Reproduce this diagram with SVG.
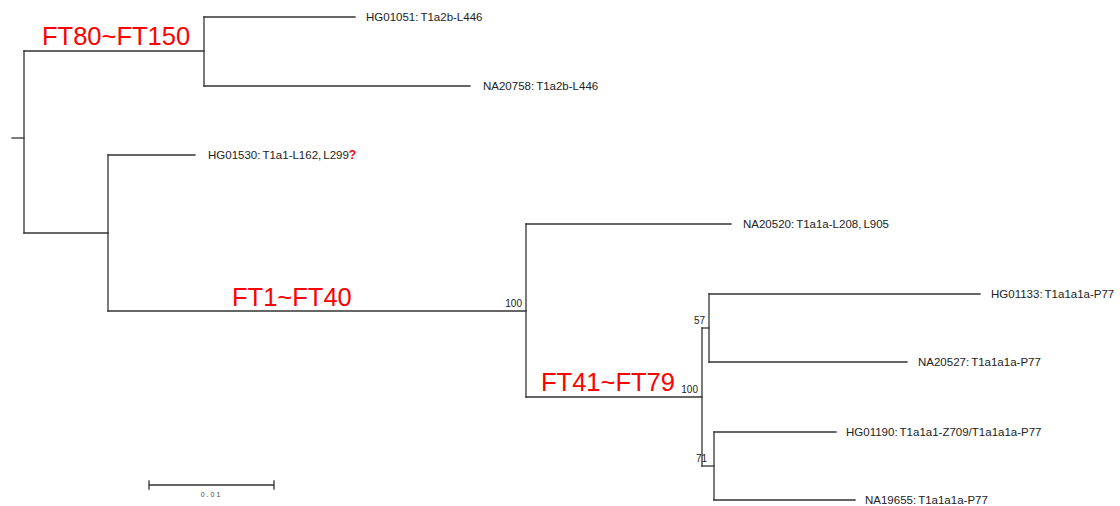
<svg xmlns="http://www.w3.org/2000/svg" width="1120" height="506" viewBox="0 0 1120 506">
<style>
.br{fill:none;stroke:#333;stroke-width:1.3;stroke-linecap:square}
.lb{font-family:"Liberation Sans",Arial,sans-serif;font-size:11.5px;fill:#222}
.bs{font-family:"Liberation Sans",Arial,sans-serif;font-size:10px;fill:#222}
.ft{font-family:"Liberation Sans",Arial,sans-serif;font-size:25.5px;fill:#ff0000}
.q{font-family:"Liberation Sans",Arial,sans-serif;font-size:12px;font-weight:bold;fill:#ff0000}
</style>
<rect width="1120" height="506" fill="#fff"/>
<g id="connectors">
<path class="br" d="M12,138 H24"/>
<path class="br" d="M24,51 V233"/>
<path class="br" d="M24,51 H204"/>
<path class="br" d="M204,17 V86"/>
<path class="br" d="M204,17 H355"/>
<path class="br" d="M204,86 H470"/>
<path class="br" d="M24,233 H108"/>
<path class="br" d="M108,155 V311"/>
<path class="br" d="M108,155 H195"/>
<path class="br" d="M108,311 H526"/>
<path class="br" d="M526,224 V397"/>
<path class="br" d="M526,224 H731"/>
<path class="br" d="M526,397 H702"/>
<path class="br" d="M702,328 V466"/>
<path class="br" d="M702,328 H709"/>
<path class="br" d="M709,294 V362"/>
<path class="br" d="M709,294 H980"/>
<path class="br" d="M709,362 H907"/>
<path class="br" d="M702,466 H714"/>
<path class="br" d="M714,432 V500"/>
<path class="br" d="M714,432 H836"/>
<path class="br" d="M714,500 H855"/>
</g>
<g id="ft80"><text class="ft" x="42" y="45">FT80~FT150</text></g>
<g id="ft1"><text class="ft" x="232" y="306">FT1~FT40</text></g>
<g id="ft41"><text class="ft" x="541" y="391">FT41~FT79</text></g>
<g id="HG01051"><text class="lb" x="366" y="21">HG01051:<tspan dx="2">T1a2b-L446</tspan></text></g>
<g id="NA20758"><text class="lb" x="483" y="90">NA20758:<tspan dx="2">T1a2b-L446</tspan></text></g>
<g id="HG01530"><text class="lb" x="208" y="159">HG01530:<tspan dx="2">T1a1-L162,</tspan><tspan dx="2">L299</tspan><tspan class="q">?</tspan></text></g>
<g id="NA20520"><text class="lb" x="743" y="228">NA20520:<tspan dx="2">T1a1a-L208,</tspan><tspan dx="2">L905</tspan></text></g>
<g id="HG01133"><text class="lb" x="991" y="298">HG01133:<tspan dx="2">T1a1a1a-P77</tspan></text></g>
<g id="NA20527"><text class="lb" x="918" y="366">NA20527:<tspan dx="2">T1a1a1a-P77</tspan></text></g>
<g id="HG01190"><text class="lb" x="846" y="436">HG01190:<tspan dx="2">T1a1a1-Z709/T1a1a1a-P77</tspan></text></g>
<g id="NA19655"><text class="lb" x="865" y="504">NA19655:<tspan dx="2">T1a1a1a-P77</tspan></text></g>
<g id="bootstrap">
<text class="bs" x="522" y="307" text-anchor="end">100</text>
<text class="bs" x="698" y="393" text-anchor="end">100</text>
<text class="bs" x="705" y="324" text-anchor="end">57</text>
<text class="bs" x="707" y="462" text-anchor="end">71</text>
</g>
<g id="scalebar">
<path class="br" d="M149,485 H274 M149,481 V489 M274,481 V489"/>
<text x="211.5" y="497" text-anchor="middle" style="font-family:'Liberation Sans',Arial,sans-serif;font-size:7px;fill:#444;letter-spacing:2px">0.01</text>
</g>
</svg>
